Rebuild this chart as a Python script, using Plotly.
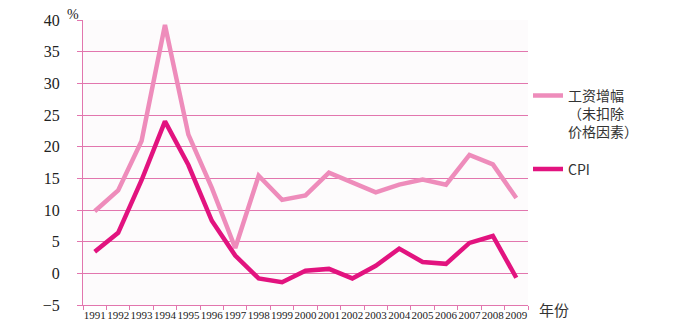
import plotly.graph_objects as go

years = [str(y) for y in range(1991, 2010)]
wage_growth = [9.8, 13.1, 20.9, 39.2, 21.9, 13.5, 4.0, 15.4, 11.6, 12.3, 15.9,
               14.3, 12.8, 14.0, 14.8, 14.0, 18.7, 17.2, 11.9]
cpi = [3.4, 6.4, 14.7, 24.0, 17.1, 8.3, 2.8, -0.8, -1.4, 0.4, 0.7,
       -0.8, 1.2, 3.9, 1.8, 1.5, 4.8, 5.9, -0.7]
y_ticks = [-5, 0, 5, 10, 15, 20, 25, 30, 35, 40]

W, H = 691, 333
L, R, T, B = 83, 163, 18, 28
SERIF = "'Liberation Serif', 'DejaVu Serif', serif"
CJK = "'Noto Sans CJK SC', sans-serif"
PINK = "#E276AE"

fig = go.Figure()
fig.add_trace(go.Scatter(x=years, y=wage_growth, mode="lines",
                         name="工资增幅<br>（未扣除<br>价格因素）", legendgroup="a",
                         line=dict(color="#EE8CBB", width=4.5)))
fig.add_trace(go.Scatter(x=years, y=cpi, mode="lines", name="CPI", legendgroup="b",
                         line=dict(color="#E2137F", width=4.5)))

fig.update_layout(
    width=W, height=H,
    margin=dict(l=L, r=R, t=T, b=B),
    paper_bgcolor="white",
    plot_bgcolor="#fdfbfc",
    font=dict(family=SERIF, color="#222"),
    showlegend=True,
    legend=dict(x=1.0, xanchor="left", y=0.79, yanchor="top",
                font=dict(family=CJK, size=14, color="#333"),
                valign="top", tracegroupgap=16, itemwidth=30,
                bgcolor="rgba(0,0,0,0)"),
)
fig.update_xaxes(type="category", tickson="boundaries", ticks="outside", ticklen=4,
                 tickcolor=PINK, showline=True, linecolor=PINK, linewidth=1.2,
                 showgrid=False, tickangle=0, tickfont=dict(size=11, family=SERIF),
                 range=[-0.5, 18.5])
fig.update_yaxes(range=[-5, 40], tickvals=y_ticks, ticks="outside", ticklen=5,
                 tickcolor=PINK, showline=True, linecolor=PINK, linewidth=1.2,
                 gridcolor=PINK, gridwidth=1.2, zeroline=False,
                 tickfont=dict(size=16, family=SERIF),
                 ticklabelstandoff=14)

fig.add_annotation(text="%", xref="paper", yref="paper", x=0, y=1.021,
                   xanchor="right", yanchor="middle", xshift=-2, showarrow=False,
                   font=dict(size=14, family=SERIF, color="#222"))
fig.add_annotation(text="年份", xref="paper", yref="paper", x=1.02, y=0.0,
                   xanchor="left", yanchor="middle", yshift=-4, showarrow=False,
                   font=dict(size=15, family=CJK, color="#333"))

fig.write_html("out.html")
